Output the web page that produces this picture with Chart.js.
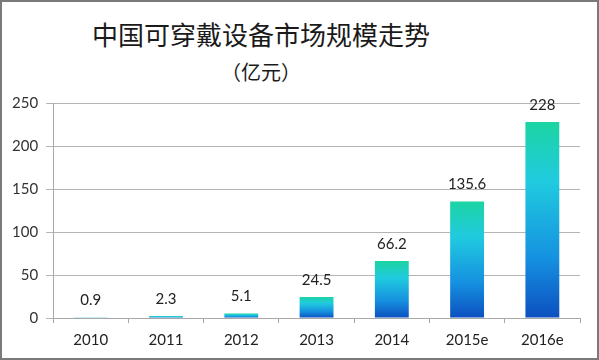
<!DOCTYPE html>
<html><head><meta charset="utf-8">
<script src="https://cdn.jsdelivr.net/npm/chart.js@4/dist/chart.umd.min.js"></script>
<style>
html,body{margin:0;padding:0;background:#fff;}
#wrap{position:relative;width:599px;height:360px;box-sizing:border-box;border:2px solid #7a7a7a;overflow:hidden;}
#title{position:absolute;left:-2px;width:522px;top:14px;text-align:center;font-family:"Noto Sans CJK SC";font-size:26px;color:#1a1a1a;line-height:36px;}
#sub{position:absolute;left:-2px;width:522px;top:56px;text-align:center;font-family:"Noto Sans CJK SC";font-size:20px;color:#1a1a1a;line-height:28px;}
canvas{position:absolute;left:-2px;top:-2px;}
</style></head>
<body>
<div id="wrap">
<div id="title">中国可穿戴设备市场规模走势</div>
<div id="sub">（亿元）</div>
<canvas id="c" width="599" height="360"></canvas>
</div>
<script>
const categories = ["2010","2011","2012","2013","2014","2015e","2016e"];
const values = [0.9, 2.3, 5.1, 24.5, 66.2, 135.6, 228];
const valueLabels = ["0.9","2.3","5.1","24.5","66.2","135.6","228"];
const yTicks = [0,50,100,150,200,250];

const labelPlugin = {
  id:'valLabels',
  afterDatasetsDraw(chart){
    const ctx = chart.ctx;
    const meta = chart.getDatasetMeta(0);
    ctx.save();
    ctx.font = '15px Lato';
    ctx.fillStyle = '#222';
    ctx.textAlign = 'center';
    ctx.textBaseline = 'middle';
    meta.data.forEach((bar,i)=>{
      ctx.fillText(valueLabels[i], bar.x, bar.y - 17);
    });
    ctx.restore();
  }
};

function grad(context){
  const chart = context.chart;
  const y = chart.scales.y;
  if (!y || context.dataIndex === undefined) return '#1fb8d8';
  const v = values[context.dataIndex];
  const top = y.getPixelForValue(v), bot = y.getPixelForValue(0);
  if (!isFinite(top) || !isFinite(bot) || bot - top < 1) return '#1fb8d8';
  const g = chart.ctx.createLinearGradient(0, top, 0, bot);
  g.addColorStop(0, '#1cd4a2');
  g.addColorStop(0.3, '#20cbdf');
  g.addColorStop(0.7, '#1590e0');
  g.addColorStop(1, '#0c4fbf');
  return g;
}

new Chart(document.getElementById('c'), {
  type:'bar',
  data:{labels:categories, datasets:[{data:values, backgroundColor:grad, borderWidth:0, barPercentage:0.45, categoryPercentage:1}]},
  plugins:[labelPlugin],
  options:{
    responsive:false, animation:false,
    layout:{padding:{top:103,left:4,right:19,bottom:3}},
    plugins:{legend:{display:false}, tooltip:{enabled:false}, title:{display:false}},
    scales:{
      y:{min:0,max:250,
        afterBuildTicks(s){ s.ticks = yTicks.map(v=>({value:v})); },
        grid:{color:'#b4b4b4', lineWidth:1, tickLength:7, drawTicks:true},
        border:{display:true,color:'#a8a8a8'},
        ticks:{font:{family:'Lato',size:15}, color:'#333', padding:8}
      },
      x:{
        grid:{drawOnChartArea:false, drawTicks:true, tickLength:5, color:'#a8a8a8', offset:true},
        border:{display:true,color:'#a8a8a8'},
        ticks:{font:{family:'Lato',size:15}, color:'#222', padding:8}
      }
    }
  }
});
</script>
</body></html>
